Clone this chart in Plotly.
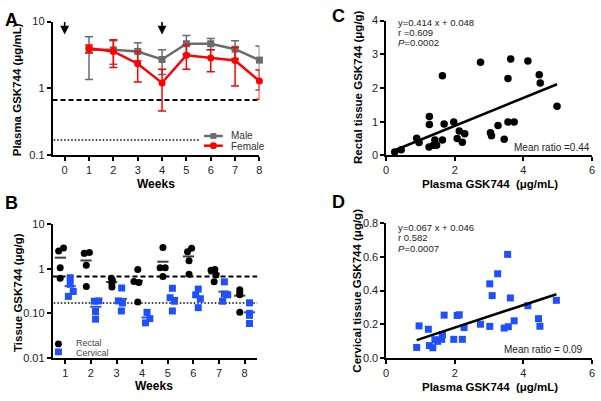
import plotly.graph_objects as go
import numpy as np

W, H = 601, 401
FONT = "Liberation Sans, Arial, sans-serif"

# ---------------- Panel A data ----------------
weeks = [1, 2, 3, 4, 5, 6, 7, 8]
male_mean = [3.78, 3.78, 3.57, 2.71, 4.66, 4.66, 3.86, 2.65]
male_upper = [5.9, 5.15, 4.8, 3.78, 6.2, 5.56, 5.15, 4.31]
male_lower = [1.36, 2.29, 2.6, 1.61, 3.3, 3.8, 2.8, 0.95]
female_mean = [3.98, 3.57, 2.34, 1.21, 3.13, 2.86, 2.62, 1.29]
female_upper = [4.47, 5.32, 3.57, 1.94, 4.47, 3.78, 4.08, 1.88]
female_lower = [3.38, 2.05, 1.25, 0.46, 1.94, 1.78, 1.09, 0.69]
dose_weeks = [0, 4]
thr_dashed = 0.67
thr_dotted = 0.17
a_xticks = [0, 1, 2, 3, 4, 5, 6, 7, 8]

# ---------------- Panel B data ----------------
rectal_by_week = [
    [2.5, 2.95, 1.05, 0.61],
    [2.22, 2.33, 1.2, 0.40],
    [0.61, 0.55, 0.47, 0.39],
    [0.52, 0.96, 0.49, 0.18],
    [3.0, 1.05, 1.05, 0.67],
    [2.42, 2.9, 1.51, 0.75],
    [0.93, 0.96, 0.73, 0.51],
    [0.34, 0.29, 0.26, 0.106],
]
cervical_by_week = [
    [0.63, 0.45, 0.24, 0.31],
    [0.187, 0.19, 0.11, 0.074],
    [0.37, 0.19, 0.17, 0.113],
    [0.105, 0.061, 0.076],
    [0.365, 0.224, 0.187, 0.113],
    [0.35, 0.26, 0.21, 0.134],
    [0.51, 0.27, 0.26, 0.187],
    [0.172, 0.10, 0.09, 0.059],
]
# horizontal scatter offsets (layout of the column scatter, in week units)
rectal_jitter = [
    [-0.26, -0.07, -0.2, -0.2], [-0.26, -0.06, -0.18, -0.18],
    [-0.2, -0.16, -0.18, -0.18], [-0.32, -0.17, -0.13, -0.17],
    [-0.19, -0.3, -0.1, -0.19], [-0.23, -0.07, -0.17, -0.17],
    [-0.31, -0.16, -0.12, -0.19], [-0.19, -0.19, -0.19, -0.19],
]
cervical_jitter = [
    [0.19, 0.19, 0.12, 0.31], [0.13, 0.31, 0.18, 0.18],
    [0.2, 0.07, 0.23, 0.19], [0.19, 0.13, 0.3],
    [0.18, 0.09, 0.26, 0.18], [0.19, 0.09, 0.27, 0.19],
    [0.21, 0.21, 0.34, 0.14], [0.19, 0.19, 0.19, 0.19],
]
GROUP_OFF = 0.19

# ---------------- Panel C / D data ----------------
plasma_c = [0.25, 0.44, 0.89, 0.96, 1.26, 1.26, 1.25, 1.38, 1.42, 1.47, 1.64, 1.64,
            1.69, 1.97, 2.13, 2.07, 2.22, 2.29, 2.75, 3.04, 3.07, 3.26, 3.44, 3.55,
            3.55, 3.63, 3.73, 4.13, 4.46, 4.49, 4.98]
rectal_c = [0.10, 0.17, 0.51, 0.38, 1.15, 0.92, 0.25, 0.30, 0.46, 0.30, 0.46, 2.36,
            0.93, 0.99, 0.72, 0.50, 0.39, 0.64, 2.76, 0.67, 0.58, 0.89, 0.48, 2.28,
            0.99, 2.86, 0.99, 2.80, 2.39, 2.15, 1.46]
slope_c, icpt_c = 0.414, 0.048

plasma_d = [0.89, 0.96, 1.23, 1.26, 1.36, 1.42, 1.50, 1.62, 1.64, 1.69, 1.97, 2.07,
            2.13, 2.22, 2.27, 2.75, 3.02, 3.09, 3.02, 3.25, 3.44, 3.54, 3.56, 3.62,
            3.73, 4.13, 4.44, 4.48, 4.96]
cervical_d = [0.062, 0.19, 0.17, 0.073, 0.06, 0.108, 0.098, 0.11, 0.137, 0.254, 0.11,
              0.252, 0.256, 0.11, 0.18, 0.20, 0.44, 0.37, 0.187, 0.50, 0.177, 0.615,
              0.185, 0.356, 0.22, 0.31, 0.233, 0.188, 0.342]
slope_d, icpt_d = 0.067, 0.046

GRAY = "#6b6b6b"
RED = "#ff0000"
BLUE = "#1e50ff"

fig = go.Figure()

# ---------- A ----------
fig.add_trace(go.Scatter(x=[-0.5, 8], y=[thr_dashed, thr_dashed], mode="lines",
                         line=dict(color="black", width=2, dash="5px,3px"),
                         xaxis="x", yaxis="y", showlegend=False, hoverinfo="skip"))
fig.add_trace(go.Scatter(x=[-0.45, 5.55], y=[thr_dotted, thr_dotted], mode="lines",
                         line=dict(color="black", width=1.5, dash="1.5px,2px"),
                         xaxis="x", yaxis="y", showlegend=False, hoverinfo="skip"))
for mean, up, lo, col, sym in [(male_mean, male_upper, male_lower, GRAY, "square"),
                               (female_mean, female_upper, female_lower, RED, "circle")]:
    fig.add_trace(go.Scatter(
        x=weeks, y=mean, mode="lines+markers", xaxis="x", yaxis="y",
        line=dict(color=col, width=2.5),
        marker=dict(symbol=sym, size=7, color=col),
        error_y=dict(type="data", symmetric=False,
                     array=[u - m for u, m in zip(up, mean)],
                     arrayminus=[m - l for m, l in zip(mean, lo)],
                     color=col, thickness=1.5, width=4),
        cliponaxis=False, showlegend=False))

# ---------- B ----------
fig.add_trace(go.Scatter(x=[0.5, 8.5], y=[thr_dashed, thr_dashed], mode="lines",
                         line=dict(color="black", width=2, dash="5px,3px"),
                         xaxis="x2", yaxis="y2", showlegend=False, hoverinfo="skip"))
fig.add_trace(go.Scatter(x=[0.55, 8.5], y=[thr_dotted, thr_dotted], mode="lines",
                         line=dict(color="black", width=1.5, dash="1.5px,2px"),
                         xaxis="x2", yaxis="y2", showlegend=False, hoverinfo="skip"))
for vals_all, jit_all, col, sym, off, mcol in [
        (rectal_by_week, rectal_jitter, "black", "circle", -GROUP_OFF, "#3c3c3c"),
        (cervical_by_week, cervical_jitter, BLUE, "square", GROUP_OFF, "#3a55b0")]:
    xs, ys, mx, my = [], [], [], []
    for wk, vals, jit in zip(weeks, vals_all, jit_all):
        xs += [wk + j for j in jit]
        ys += vals
        mx.append(wk + off)
        my.append(float(np.mean(vals)))
    fig.add_trace(go.Scatter(x=mx, y=my, mode="markers", xaxis="x2", yaxis="y2",
                             marker=dict(symbol="line-ew-open", size=8, color=mcol,
                                         line=dict(color=mcol, width=2)),
                             showlegend=False, cliponaxis=False))
    fig.add_trace(go.Scatter(x=xs, y=ys, mode="markers", xaxis="x2", yaxis="y2",
                             marker=dict(symbol=sym, size=7, color=col),
                             showlegend=False, cliponaxis=False))

# ---------- C ----------
fig.add_trace(go.Scatter(x=plasma_c, y=rectal_c, mode="markers", xaxis="x3", yaxis="y3",
                         marker=dict(symbol="circle", size=7.5, color="black"),
                         showlegend=False, cliponaxis=False))
xl = [min(plasma_c), max(plasma_c)]
fig.add_trace(go.Scatter(x=xl, y=[slope_c * v + icpt_c for v in xl], mode="lines",
                         xaxis="x3", yaxis="y3", line=dict(color="black", width=2.5),
                         showlegend=False))

# ---------- D ----------
fig.add_trace(go.Scatter(x=plasma_d, y=cervical_d, mode="markers", xaxis="x4", yaxis="y4",
                         marker=dict(symbol="square", size=7, color=BLUE),
                         showlegend=False, cliponaxis=False))
xl = [min(plasma_d), max(plasma_d)]
fig.add_trace(go.Scatter(x=xl, y=[slope_d * v + icpt_d for v in xl], mode="lines",
                         xaxis="x4", yaxis="y4", line=dict(color="black", width=2.5),
                         showlegend=False))


def px(v):
    return v / W


def py(v):
    return 1 - v / H


axis_common = dict(showline=True, linecolor="black", linewidth=1.5, ticks="outside",
                   ticklen=4, tickwidth=1.5, tickcolor="black", showgrid=False,
                   zeroline=False, tickfont=dict(family=FONT, size=11, color="#222"),
                   fixedrange=True)

fig.update_layout(
    width=W, height=H, autosize=False,
    margin=dict(l=0, r=0, t=0, b=0),
    paper_bgcolor="white", plot_bgcolor="white",
    font=dict(family=FONT, color="#222"),
    xaxis=dict(axis_common, domain=[px(50), px(259)], range=[-0.5, 8], anchor="y",
               tickvals=a_xticks),
    yaxis=dict(axis_common, domain=[py(154), py(16)], type="log", range=[-1, 1],
               anchor="x", tickvals=[0.1, 1, 10], ticktext=["0.1", "1", "10"]),
    xaxis2=dict(axis_common, domain=[px(50), px(257)], range=[0.5, 8.5], anchor="y2",
                tickvals=weeks),
    yaxis2=dict(axis_common, domain=[py(362.7), py(225)], type="log", range=[-2, 1],
                anchor="x2", tickvals=[0.01, 0.1, 1, 10],
                ticktext=["0.01", "0.10", "1", "10"]),
    xaxis3=dict(axis_common, domain=[px(387), px(595)], range=[0, 6], anchor="y3",
                tickvals=[0, 2, 4, 6]),
    yaxis3=dict(axis_common, domain=[py(154), py(15)], range=[0, 4], anchor="x3",
                tickvals=[0, 1, 2, 3, 4]),
    xaxis4=dict(axis_common, domain=[px(387), px(595)], range=[0, 6], anchor="y4",
                tickvals=[0, 2, 4, 6]),
    yaxis4=dict(axis_common, domain=[py(362.7), py(224)], range=[0, 0.8], anchor="x4",
                tickvals=[0, 0.2, 0.4, 0.6, 0.8], tickformat=".1f"),
)

ann = []


def text(x, y, s, size=11, bold=False, angle=0, xanchor="center", color="#222"):
    ann.append(dict(x=px(x), y=py(y), xref="paper", yref="paper", text=s, showarrow=False,
                    textangle=angle, xanchor=xanchor, yanchor="middle",
                    font=dict(family=FONT, size=size, color=color,
                              weight="bold" if bold else "normal")))


TS = 11.5  # axis title size

# panel letters
text(8.5, 14, "A", size=18, bold=True, color="black")
text(8.5, 203, "B", size=18, bold=True, color="black")
text(339, 10, "C", size=18, bold=True, color="black")
text(339, 202, "D", size=18, bold=True, color="black")

# axis titles
text(15, 86, "Plasma GSK744 (μg/mL)", size=TS, bold=True, angle=-90, color="black")
text(155, 183.5, "Weeks", size=TS + 0.5, bold=True, color="black")
text(15, 295, "Tissue GSK744 (μg/g)", size=TS, bold=True, angle=-90, color="black")
text(153, 391.5, "Weeks", size=TS + 0.5, bold=True, color="black")
text(358, 83, "Rectal tissue GSK744 (μg/g)", size=TS, bold=True, angle=-90, color="black")
text(492, 183.5, "Plasma GSK744  (μg/mL)", size=TS, bold=True, color="black")
text(358, 293, "Cervical tissue GSK744 (μg/g)", size=TS, bold=True, angle=-90, color="black")
text(492, 392.5, "Plasma GSK744  (μg/mL)", size=TS, bold=True, color="black")

# stats text
text(396.5, 17, f"y={slope_c} x + {icpt_c}", size=9.5, xanchor="left")
text(396.5, 27, "r =0.609", size=9.5, xanchor="left")
text(396.5, 37.5, "<i>P</i>=0.0002", size=9.5, xanchor="left")
text(595, 146, "Mean ratio =0.44", size=10, xanchor="right")
text(396.5, 228.5, f"y={slope_d} x + {icpt_d}", size=9.5, xanchor="left")
text(396.5, 239, "r 0.582", size=9.5, xanchor="left")
text(396.5, 249.5, "<i>P</i>=0.0007", size=9.5, xanchor="left")
text(588, 354.5, "Mean ratio = 0.09", size=10, xanchor="right")

# legend texts
text(228, 134, "Male", size=10, xanchor="left", color="#333")
text(228, 144.5, "Female", size=10, xanchor="left", color="#333")
text(72, 347.5, "Rectal", size=9, xanchor="left", color="#444")
text(72, 357.5, "Cervical", size=9, xanchor="left", color="#444")

# dosing arrows
for wk in dose_weeks:
    ann.append(dict(x=wk, y=np.log10(6.4), xref="x", yref="y", text="", showarrow=True,
                    ax=0, ay=-14, arrowhead=2, arrowsize=1.1, arrowwidth=1.6,
                    arrowcolor="black"))

shapes = []


def pline(x0, y0, x1, y1, col, w):
    shapes.append(dict(type="line", xref="paper", yref="paper", x0=px(x0), y0=py(y0),
                       x1=px(x1), y1=py(y1), line=dict(color=col, width=w)))


def pbox(cx, cy, s, col, kind="rect"):
    shapes.append(dict(type=kind, xref="paper", yref="paper", x0=px(cx - s / 2),
                       x1=px(cx + s / 2), y0=py(cy + s / 2), y1=py(cy - s / 2),
                       fillcolor=col, line=dict(color=col, width=0)))


pline(203, 134, 222, 134, GRAY, 2.5)
pbox(212.5, 134, 6, GRAY)
pline(203, 144, 222, 144, RED, 2.5)
pbox(212.5, 144, 7, RED, "circle")
pbox(56, 348.3, 7, "black", "circle")
pbox(56, 356.5, 7, BLUE)

fig.update_layout(annotations=ann, shapes=shapes)

fig.write_html("out.html", config={"displayModeBar": False},
               post_script="document.body.style.margin='0';")
